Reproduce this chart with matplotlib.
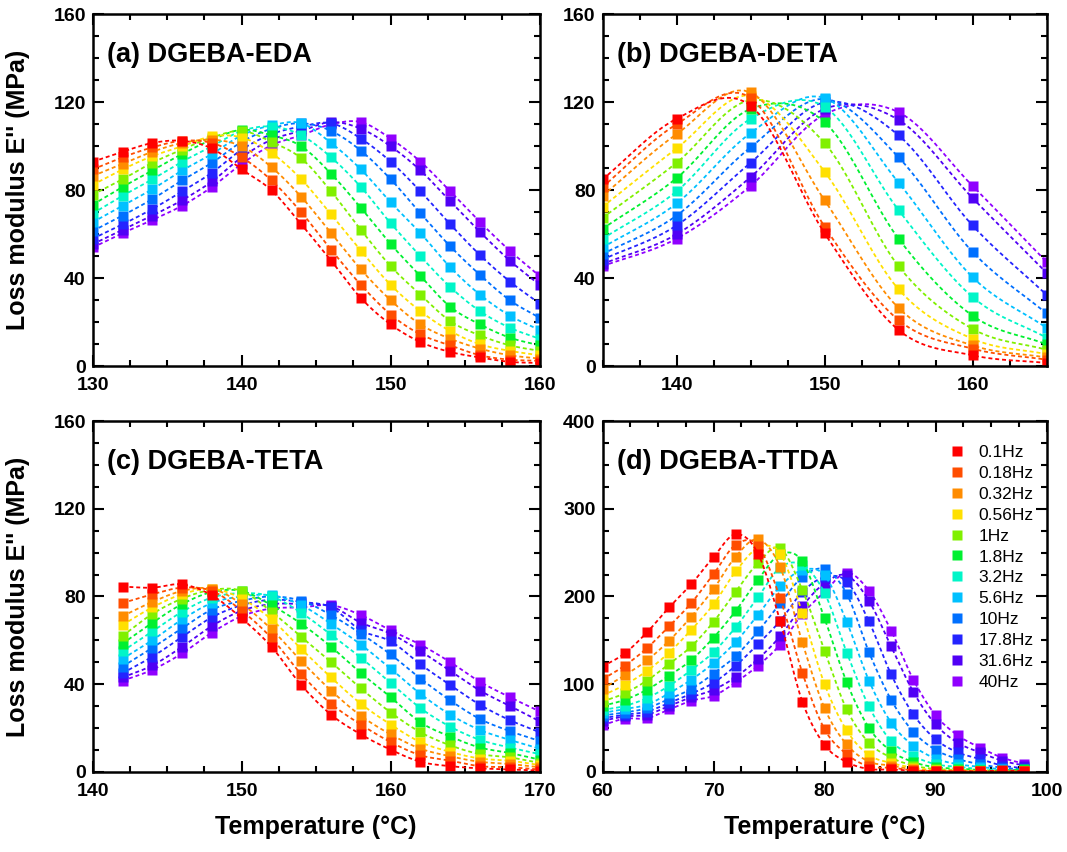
import numpy as np
import matplotlib.pyplot as plt
from matplotlib.ticker import MultipleLocator

plt.rcParams['font.family'] = ['Liberation Sans', 'DejaVu Sans']
plt.rcParams['font.weight'] = 'bold'

# -------------------
# data
# -------------------
freqs = ['0.1Hz', '0.18Hz', '0.32Hz', '0.56Hz', '1Hz', '1.8Hz',
         '3.2Hz', '5.6Hz', '10Hz', '17.8Hz', '31.6Hz', '40Hz']
colors = ['#ff0000', '#ff4d00', '#ff8c00', '#ffe000', '#80f000', '#00f030',
          '#00f5c8', '#00c0ff', '#0070ff', '#2424ff', '#5000f5', '#9000ff']

# (a) DGEBA-EDA
temp_eda = [130, 132, 134, 136, 138, 140, 142, 144, 146, 148, 150, 152, 154, 156, 158, 160]
loss_eda = [
    [93, 97.5, 101.5, 102.5, 99, 89.5, 80, 64.5, 48, 31, 19, 11, 6.5, 4, 2, 1.5],
    [89.5, 95, 99.5, 102.5, 101.5, 95, 84.5, 70, 53, 37, 23.5, 14.5, 9.5, 5, 3, 2.5],
    [86.5, 92, 97.5, 101.5, 103, 100, 90.5, 77, 60.5, 44, 30, 19, 12.5, 8, 5, 3.5],
    [82.5, 89.5, 95.5, 100, 104.5, 104, 97, 85, 69, 52.5, 37, 25, 16, 10, 7, 5],
    [78, 85, 92.5, 98.5, 104, 107, 102, 94.5, 79.5, 62, 45.5, 32.5, 20.5, 14, 9.5, 7],
    [73.5, 81.5, 89, 96.5, 103, 107.5, 105, 100, 87.5, 72, 55.5, 41, 27, 19, 13, 9.5],
    [69.5, 77.5, 85, 93, 100, 107, 109, 105, 95, 81.5, 65, 50, 36, 25, 17.5, 12.5],
    [65.5, 73, 80.5, 89, 96.5, 105, 109.5, 110.5, 101.5, 89.5, 74.5, 60.5, 45, 32.5, 23, 16.5],
    [61.5, 68.5, 76, 84.5, 92.5, 102, 108, 110.5, 107, 98, 85, 69.5, 54.5, 41.5, 30, 22],
    [58, 64.5, 71.5, 79.5, 88, 98.5, 105.5, 109, 110.5, 103.5, 93, 79.5, 64.5, 50.5, 38.5, 28.5],
    [55.5, 62, 68.5, 75.5, 84, 95, 103, 107, 111, 108, 100, 89, 75, 61, 48, 37],
    [54, 60.5, 66.5, 73, 81.5, 92, 100.5, 105, 110, 111, 103.5, 93, 79.5, 65.5, 52.5, 41],
]

# (b) DGEBA-DETA
temp_deta = [135, 140, 145, 150, 155, 160, 165]
loss_deta = [
    [85, 112.5, 118.5, 60.5, 16.5, 5, 1.5],
    [81.5, 110, 122, 63.5, 21, 8, 3],
    [77.5, 105.5, 124.5, 75.5, 26.5, 9.5, 4],
    [72.5, 99, 123, 88.5, 35, 12.5, 5.5],
    [67.5, 92.5, 121, 101.5, 45.5, 17, 7.5],
    [62.5, 85.5, 117, 111, 58, 23, 10],
    [58, 79.5, 112.5, 118, 71, 31.5, 13],
    [54, 74, 106, 122, 83.5, 40.5, 17.5],
    [51, 68.5, 99.5, 121.5, 95, 52, 24],
    [48.5, 64, 92.5, 120, 105, 64, 32.5],
    [46.5, 60, 86, 117, 112, 76.5, 42.5],
    [45.5, 58, 82, 114.5, 115.5, 82, 47.5],
]

# (c) DGEBA-TETA
temp_teta = [142, 144, 146, 148, 150, 152, 154, 156, 158, 160, 162, 164, 166, 168, 170]
loss_teta = [
    [84.5, 84, 85.5, 80.5, 70, 57, 39.5, 26, 17, 10, 4.5, 2.5, 1.5, 1, 0.5],
    [77, 81, 84, 82.5, 73.5, 61, 44.5, 31, 21.5, 13.5, 7.5, 5, 2.5, 2, 1],
    [71, 77.5, 82.5, 83.5, 76.5, 65, 50.5, 37, 25.5, 17, 10.5, 7, 4.5, 3.5, 2],
    [67, 75, 81, 83.5, 79, 69.5, 56, 43, 31, 21.5, 13.5, 9, 6, 5, 3],
    [62, 72, 79, 83, 82.5, 73, 61.5, 50, 38, 27, 18, 12, 8, 6.5, 4],
    [58.5, 68, 76.5, 82, 82.5, 76, 67.5, 57, 45, 34, 22.5, 16, 11, 8.5, 5.5],
    [55, 64, 73, 79.5, 81.5, 80, 72.5, 62.5, 52, 40.5, 29, 20.5, 14.5, 11, 8],
    [51.5, 60, 69.5, 77, 80, 80.5, 76, 67.5, 58, 47, 35.5, 26, 19, 14.5, 10.5],
    [48, 56.5, 65.5, 74, 78, 80, 78, 71.5, 63, 53.5, 42.5, 32.5, 24, 18.5, 14],
    [45, 52.5, 61.5, 70.5, 76, 78.5, 77.5, 75, 64.5, 59.5, 49, 39.5, 30.5, 23.5, 18],
    [43, 48.5, 57, 66.5, 73.5, 76.5, 76.5, 75.5, 68, 63, 55, 46, 37, 30, 23],
    [41.5, 46.5, 54, 63.5, 71, 74.5, 75, 76, 71.5, 64.5, 58, 50, 41, 34, 27.5],
]

# (d) DGEBA-TTDA
temp_ttda = [60, 62, 64, 66, 68, 70, 72, 74, 76, 78, 80, 82, 84, 86, 88, 90, 92, 94, 96, 98]
loss_ttda = [
    [120, 135, 159, 187.5, 214, 245, 271, 249, 172, 80, 30.5, 11, 3, 2.5, 1, 0.5, 0.3, 0.2, 1.5, 0.5],
    [105.5, 121, 141, 166, 192.5, 225.5, 259, 258, 198, 113, 48.5, 20, 6, 4.5, 1.5, 0.8, 0.5, 0.3, 0.3, 0.3],
    [94.5, 110, 127, 149.5, 177, 208.5, 245.5, 265, 233.5, 147.5, 72.5, 31, 11.5, 7, 2.5, 1.2, 0.8, 0.5, 0.4, 0.3],
    [87, 99, 115, 136, 162, 191, 228.5, 255, 249, 181, 100, 47, 19, 10, 4.5, 1.8, 1.2, 0.8, 0.5, 0.4],
    [80, 89.5, 104, 123, 143, 171, 205.5, 238, 255, 207.5, 138, 71, 33, 16, 7, 3, 2, 1.2, 0.8, 0.5],
    [75, 82, 93.5, 109.5, 127.5, 153, 183.5, 219, 248, 240, 175, 102, 50, 23.5, 11, 5, 3.5, 1.8, 1, 3],
    [70.5, 75, 84, 98, 116, 136.5, 165, 199, 233, 236, 204, 136, 74.5, 35, 18, 8.5, 5.5, 3, 1.5, 1],
    [67, 71.5, 76.5, 89.5, 105, 124, 148, 179, 211.5, 230, 224, 171, 104, 56, 29.5, 15, 8.5, 5.5, 2.5, 1.5],
    [64, 67.5, 72.5, 83, 94.5, 112, 132, 160, 192, 222, 231, 203, 136.5, 82, 45.5, 25, 14.5, 8.5, 4.5, 2.5],
    [61, 65, 68.5, 78.5, 89, 101.5, 121, 145.5, 172, 205, 222, 217, 171.5, 111, 65.5, 37, 22, 14.5, 7, 4],
    [58, 63, 65, 75, 85, 93.5, 108, 128.5, 154.5, 189, 215, 224, 195, 143, 91, 54, 33, 22, 12.5, 7],
    [53, 60.5, 61, 71, 81, 86.5, 102, 121, 145, 180, 205, 227, 206.5, 161, 105, 64.5, 41.5, 27.5, 16, 9],
]


def guide_line(x, y, n=12):                                     # smooth dashed guide through the points
    x = np.asarray(x, float)
    y = np.asarray(y, float)
    m = np.gradient(y, x)
    xs, ys = [], []
    for i in range(len(x) - 1):
        t = np.linspace(0, 1, n, endpoint=False)
        h = x[i+1] - x[i]
        h00 = 2*t**3 - 3*t**2 + 1
        h10 = t**3 - 2*t**2 + t
        h01 = -2*t**3 + 3*t**2
        h11 = t**3 - t**2
        xs.append(x[i] + t*h)
        ys.append(h00*y[i] + h10*h*m[i] + h01*y[i+1] + h11*h*m[i+1])
    xs.append([x[-1]])
    ys.append([y[-1]])
    return np.concatenate(xs), np.clip(np.concatenate(ys), 0, None)


def draw_panel(ax, temps, table, xlim, ylim, ymajor, title):
    for i in reversed(range(len(table))):                       # red ends up on top
        xs, ys = guide_line(temps, table[i])
        ax.plot(xs, ys, ls=(0, (2.2, 1.6)), lw=1.3, color=colors[i])
        ax.plot(temps, table[i], ls='', marker='s', ms=6.5, mec='none', color=colors[i])
    ax.set_xlim(*xlim)
    ax.set_ylim(*ylim)
    ax.xaxis.set_major_locator(MultipleLocator(10))
    ax.xaxis.set_minor_locator(MultipleLocator(2.5))
    ax.yaxis.set_major_locator(MultipleLocator(ymajor))
    ax.yaxis.set_minor_locator(MultipleLocator(ymajor / 4))
    ax.tick_params(which='both', direction='in', top=True, right=True, width=1.5, labelsize=14)
    ax.tick_params(axis='x', pad=8)
    ax.tick_params(axis='y', pad=5)
    ax.tick_params(which='major', length=8)
    ax.tick_params(which='minor', length=4.5)
    for s in ax.spines.values():
        s.set_linewidth(1.8)
    ax.text(0.033, 0.885, title, transform=ax.transAxes, fontsize=19.5, fontweight='bold', va='center')


fig = plt.figure(figsize=(10.67, 8.52), dpi=100)
ax_a = fig.add_axes([0.0869, 0.5701, 0.4189, 0.4131])
ax_b = fig.add_axes([0.5647, 0.5701, 0.4161, 0.4131])
ax_c = fig.add_axes([0.0869, 0.0943, 0.4189, 0.4113])
ax_d = fig.add_axes([0.5647, 0.0943, 0.4161, 0.4113])

draw_panel(ax_a, temp_eda, loss_eda, (130, 160), (0, 160), 40, '(a) DGEBA-EDA')
draw_panel(ax_b, temp_deta, loss_deta, (135, 165), (0, 160), 40, '(b) DGEBA-DETA')
draw_panel(ax_c, temp_teta, loss_teta, (140, 170), (0, 160), 40, '(c) DGEBA-TETA')
draw_panel(ax_d, temp_ttda, loss_ttda, (60, 100), (0, 400), 100, '(d) DGEBA-TTDA')

for ax in (ax_a, ax_c):
    ax.set_ylabel("Loss modulus E'' (MPa)", fontsize=18, fontweight='bold')
    ax.yaxis.set_label_coords(-0.14, 0.5)
for ax in (ax_c, ax_d):
    ax.set_xlabel('Temperature (°C)', fontsize=18, fontweight='bold')
    ax.xaxis.set_label_coords(0.5, -0.125)

handles = [plt.Line2D([], [], ls='', marker='s', ms=6.5, mec='none', color=c) for c in colors]
ax_d.legend(handles, freqs, loc='upper left', bbox_to_anchor=(0.76, 0.952), frameon=False,
            prop={'size': 12.5, 'weight': 'normal'}, labelspacing=0.33, handletextpad=0.6,
            handlelength=1.2, borderaxespad=0)

fig.savefig('out.png', dpi=100)
